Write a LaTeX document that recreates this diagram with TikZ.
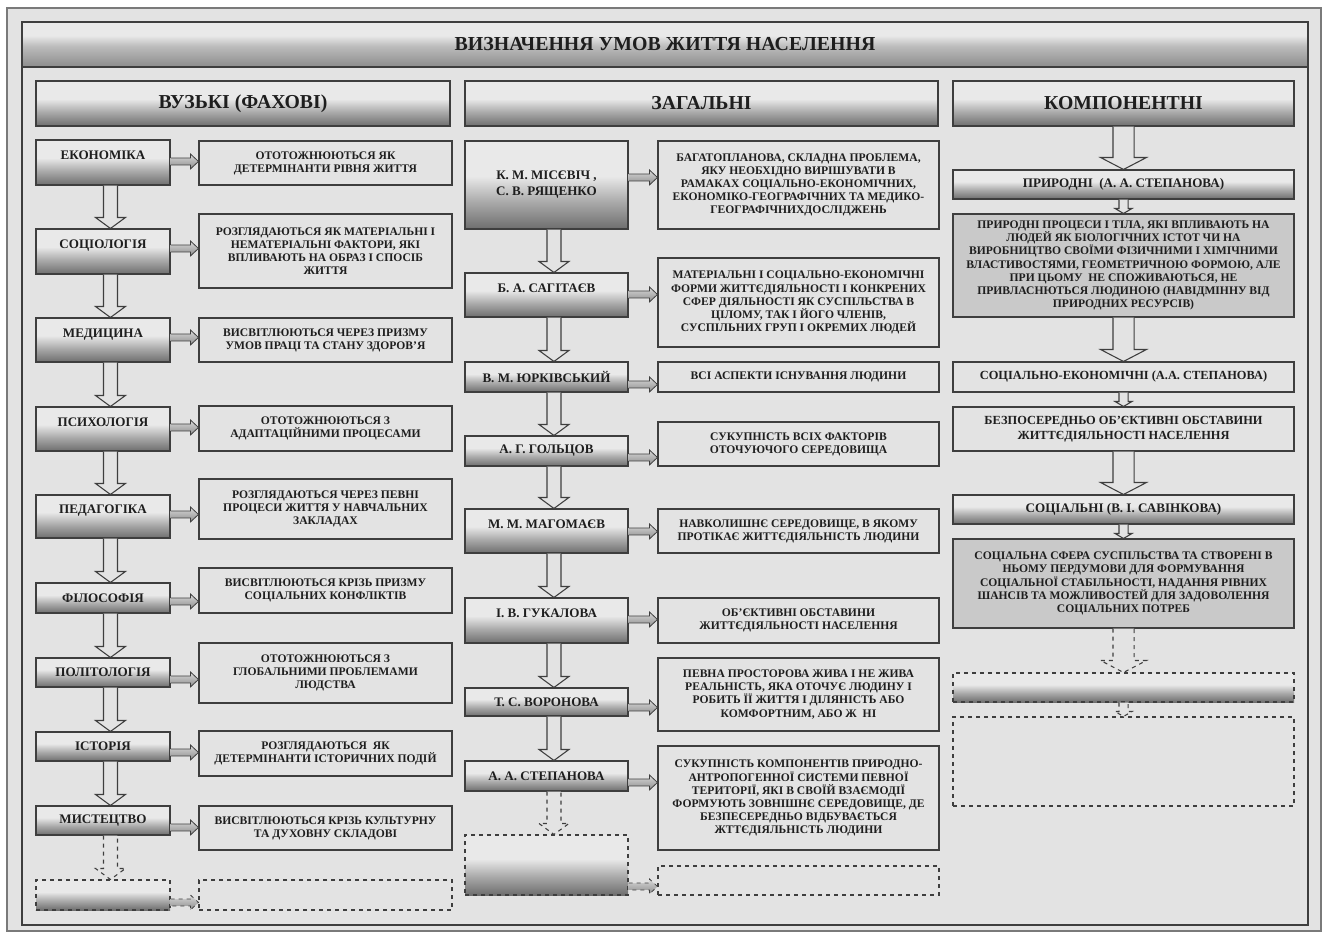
\documentclass[tikz,border=0pt]{standalone}
\usepackage{fontspec}
\setmainfont{Liberation Serif}
\usetikzlibrary{calc}

\definecolor{bg}{HTML}{E3E3E3}
\definecolor{ln}{HTML}{3E3E3E}
\definecolor{frm}{HTML}{7A7A7A}
\definecolor{lite}{HTML}{E9E9E9}
\definecolor{midg}{HTML}{A8A8A8}
\definecolor{dark}{HTML}{6E6E6E}
\definecolor{tdark}{HTML}{8C8C8C}
\definecolor{desk}{HTML}{C9C9C9}
\definecolor{txt}{HTML}{1E1E1E}

\pgfdeclareverticalshading{lblgrad}{100bp}{color(0bp)=(dark); color(25bp)=(dark);
  color(40bp)=(midg); color(55bp)=(lite); color(100bp)=(lite)}
\pgfdeclareverticalshading{titlegrad}{100bp}{color(0bp)=(tdark); color(25bp)=(tdark);
  color(48bp)=(midg!70!lite); color(60bp)=(lite); color(100bp)=(lite)}

% block arrows: style, from, to, x offset, shaft half, head half, head length
\newcommand{\vblk}[7]{%
  \draw[#1] let \p1=(#2.south), \p2=(#3.north) in
    (\x1+#4-#5,\y1) -- (\x1+#4-#5,\y2+#7) -- (\x1+#4-#6,\y2+#7) -- (\x1+#4,\y2)
    -- (\x1+#4+#6,\y2+#7) -- (\x1+#4+#5,\y2+#7) -- (\x1+#4+#5,\y1);
}
% style, from, to, drop below top of from (px)
\newcommand{\hblk}[4]{%
  \draw[#1] let \p1=([yshift=-#4*0.75pt]#2.north east), \p2=(#3.west) in
    (\x1,\y1+2.6pt) -- (\x2-6pt,\y1+2.6pt) -- (\x2-6pt,\y1+5.6pt) -- (\x2,\y1)
    -- (\x2-6pt,\y1-5.6pt) -- (\x2-6pt,\y1-2.6pt) -- (\x1,\y1-2.6pt);
}
\newcommand{\vstd}[3][]{\vblk{varr,#1}{#2}{#3}{5.6pt}{5.25pt}{11.25pt}{8.25pt}}
\newcommand{\vwide}[3][]{\vblk{varr,#1}{#2}{#3}{0pt}{7.9pt}{17.25pt}{9pt}}
\newcommand{\vsmall}[3][]{\vblk{varr,#1}{#2}{#3}{0pt}{3.4pt}{6.4pt}{3.75pt}}

\begin{document}
\begin{tikzpicture}[x=0.75pt, y=-0.75pt,
  box/.style={draw=ln, line width=0.8pt, rectangle, align=center, inner sep=1pt, text=txt},
  ht/.style={minimum height=#1*0.75pt},
  up/.style={text height=8pt, text depth=12pt},
  hdr/.style={box, shading=lblgrad, minimum height=33.75pt, font=\bfseries\fontsize{14.8}{16}\selectfont},
  lbl/.style={box, shading=lblgrad, font=\bfseries\fontsize{9.8}{12}\selectfont},
  dsc/.style={box, font=\bfseries\fontsize{8.7}{9.8}\selectfont},
  gdsc/.style={box, fill=desk, font=\bfseries\fontsize{8.7}{9.9}\selectfont},
  pln/.style={box, font=\bfseries\fontsize{9.3}{11.5}\selectfont},
  lA/.style={lbl, minimum width=100.5pt},
  dA/.style={dsc, minimum width=189.75pt},
  lB/.style={lbl, minimum width=122.25pt},
  dB/.style={dsc, minimum width=210.75pt},
  wC/.style={minimum width=255.75pt},
  varr/.style={draw=ln, line width=0.8pt, fill=bg},
  harr/.style={draw=ln, line width=0.6pt, top color=lite!85!gray, bottom color=tdark},
  dsh/.style={dashed}]

  \useasboundingbox (0,0) rectangle (1327,935);
  \draw[frm, fill=bg, line width=0.8pt] (7,8) rectangle (1321,931);
  \draw[ln, line width=0.8pt] (22,22) rectangle (1308,925);

  \node[box, shading=titlegrad, minimum width=964.5pt, minimum height=33.75pt,
    font=\bfseries\fontsize{14.9}{16}\selectfont] (title) at (665,44.5) {ВИЗНАЧЕННЯ УМОВ ЖИТТЯ НАСЕЛЕННЯ};

  \node[hdr, minimum width=310.5pt] (hA) at (243,103.5) {ВУЗЬКІ (ФАХОВІ)};
  \node[hdr, minimum width=354.75pt] (hB) at (701.5,103.5) {ЗАГАЛЬНІ};
  \node[hdr, wC] (hC) at (1123.5,103.5) {КОМПОНЕНТНІ};

  % left column
  \node[lA, ht=45, up] (eko) at (103,162.5) {ЕКОНОМІКА};
  \node[lA, ht=45, up] (soc) at (103,251.5) {СОЦІОЛОГІЯ};
  \node[lA, ht=44, up] (med) at (103,340) {МЕДИЦИНА};
  \node[lA, ht=44, up] (psy) at (103,429) {ПСИХОЛОГІЯ};
  \node[lA, ht=43, up] (ped) at (103,516.5) {ПЕДАГОГІКА};
  \node[lA, ht=30] (fil) at (103,598) {ФІЛОСОФІЯ};
  \node[lA, ht=29] (pol) at (103,672.5) {ПОЛІТОЛОГІЯ};
  \node[lA, ht=29] (ist) at (103,746.5) {ІСТОРІЯ};
  \node[lA, ht=29] (mys) at (103,820.5) {МИСТЕЦТВО};
  \node[lA, ht=30, dsh] (lx) at (103,895) {};

  \node[dA, ht=44] (eko-d) at (325.5,163) {ОТОТОЖНЮЮТЬСЯ ЯК\\ДЕТЕРМІНАНТИ РІВНЯ ЖИТТЯ};
  \node[dA, ht=74] (soc-d) at (325.5,251) {РОЗГЛЯДАЮТЬСЯ ЯК МАТЕРІАЛЬНІ І\\НЕМАТЕРІАЛЬНІ ФАКТОРИ, ЯКІ\\ВПЛИВАЮТЬ НА ОБРАЗ І СПОСІБ\\ЖИТТЯ};
  \node[dA, ht=44] (med-d) at (325.5,340) {ВИСВІТЛЮЮТЬСЯ ЧЕРЕЗ ПРИЗМУ\\УМОВ ПРАЦІ ТА СТАНУ ЗДОРОВ’Я};
  \node[dA, ht=45] (psy-d) at (325.5,428.5) {ОТОТОЖНЮЮТЬСЯ З\\АДАПТАЦІЙНИМИ ПРОЦЕСАМИ};
  \node[dA, ht=60] (ped-d) at (325.5,509) {РОЗГЛЯДАЮТЬСЯ ЧЕРЕЗ ПЕВНІ\\ПРОЦЕСИ ЖИТТЯ У НАВЧАЛЬНИХ\\ЗАКЛАДАХ};
  \node[dA, ht=45] (fil-d) at (325.5,590.5) {ВИСВІТЛЮЮТЬСЯ КРІЗЬ ПРИЗМУ\\СОЦІАЛЬНИХ КОНФЛІКТІВ};
  \node[dA, ht=60] (pol-d) at (325.5,673) {ОТОТОЖНЮЮТЬСЯ З\\ГЛОБАЛЬНИМИ ПРОБЛЕМАМИ\\ЛЮДСТВА};
  \node[dA, ht=45] (ist-d) at (325.5,753.5) {РОЗГЛЯДАЮТЬСЯ\ \ ЯК\\ДЕТЕРМІНАНТИ ІСТОРИЧНИХ ПОДІЙ};
  \node[dA, ht=44] (mys-d) at (325.5,828) {ВИСВІТЛЮЮТЬСЯ КРІЗЬ КУЛЬТУРНУ\\ТА ДУХОВНУ СКЛАДОВІ};
  \node[dA, ht=30, dsh] (lx-d) at (325.5,895) {};

  \vstd{eko}{soc} \vstd{soc}{med} \vstd{med}{psy} \vstd{psy}{ped}
  \vstd{ped}{fil} \vstd{fil}{pol} \vstd{pol}{ist} \vstd{ist}{mys}
  \vstd[dsh]{mys}{lx}

  \hblk{harr}{eko}{eko-d}{22} \hblk{harr}{soc}{soc-d}{20} \hblk{harr}{med}{med-d}{20}
  \hblk{harr}{psy}{psy-d}{21} \hblk{harr}{ped}{ped-d}{20} \hblk{harr}{fil}{fil-d}{19}
  \hblk{harr}{pol}{pol-d}{22} \hblk{harr}{ist}{ist-d}{21} \hblk{harr}{mys}{mys-d}{22}
  \hblk{harr,dsh}{lx}{lx-d}{23}

  % middle column
  \node[lB, ht=88] (mis) at (546.5,185) {К. М. МІСЄВІЧ ,\\С. В. РЯЩЕНКО};
  \node[lB, ht=44, up] (sag) at (546.5,295) {Б. А. САГІТАЄВ};
  \node[lB, ht=30] (yur) at (546.5,377) {В. М. ЮРКІВСЬКИЙ};
  \node[lB, ht=30] (gol) at (546.5,451) {А. Г. ГОЛЬЦОВ};
  \node[lB, ht=44, up] (mag) at (546.5,531) {М. М. МАГОМАЄВ};
  \node[lB, ht=45, up] (guk) at (546.5,620.5) {І. В. ГУКАЛОВА};
  \node[lB, ht=28] (vor) at (546.5,702) {Т. С. ВОРОНОВА};
  \node[lB, ht=30] (ste) at (546.5,776) {А. А. СТЕПАНОВА};
  \node[lB, ht=60, dsh] (mx) at (546.5,865) {};

  \node[dB, ht=88] (mis-d) at (798.5,185) {БАГАТОПЛАНОВА, СКЛАДНА ПРОБЛЕМА,\\ЯКУ НЕОБХІДНО ВИРІШУВАТИ В\\РАМАКАХ СОЦІАЛЬНО-ЕКОНОМІЧНИХ,\\ЕКОНОМІКО-ГЕОГРАФІЧНИХ ТА МЕДИКО-\\ГЕОГРАФІЧНИХДОСЛІДЖЕНЬ};
  \node[dB, ht=89] (sag-d) at (798.5,302.5) {МАТЕРІАЛЬНІ І СОЦІАЛЬНО-ЕКОНОМІЧНІ\\ФОРМИ ЖИТТЄДІЯЛЬНОСТІ І КОНКРЕНИХ\\СФЕР ДІЯЛЬНОСТІ ЯК СУСПІЛЬСТВА В\\ЦІЛОМУ, ТАК І ЙОГО ЧЛЕНІВ,\\СУСПІЛЬНИХ ГРУП І ОКРЕМИХ ЛЮДЕЙ};
  \node[dB, ht=30] (yur-d) at (798.5,377) {ВСІ АСПЕКТИ ІСНУВАННЯ ЛЮДИНИ};
  \node[dB, ht=44] (gol-d) at (798.5,444) {СУКУПНІСТЬ ВСІХ ФАКТОРІВ\\ОТОЧУЮЧОГО СЕРЕДОВИЩА};
  \node[dB, ht=44] (mag-d) at (798.5,531) {НАВКОЛИШНЄ СЕРЕДОВИЩЕ, В ЯКОМУ\\ПРОТІКАЄ ЖИТТЄДІЯЛЬНІСТЬ ЛЮДИНИ};
  \node[dB, ht=45] (guk-d) at (798.5,620.5) {ОБ'ЄКТИВНІ ОБСТАВИНИ\\ЖИТТЄДІЯЛЬНОСТІ НАСЕЛЕННЯ};
  \node[dB, ht=73] (vor-d) at (798.5,694.5) {ПЕВНА ПРОСТОРОВА ЖИВА І НЕ ЖИВА\\РЕАЛЬНІСТЬ, ЯКА ОТОЧУЄ ЛЮДИНУ І\\РОБИТЬ ЇЇ ЖИТТЯ І ДІЛЯНІСТЬ АБО\\КОМФОРТНИМ, АБО Ж\ \ НІ};
  \node[dB, ht=104] (ste-d) at (798.5,798) {СУКУПНІСТЬ КОМПОНЕНТІВ ПРИРОДНО-\\АНТРОПОГЕННОЇ СИСТЕМИ ПЕВНОЇ\\ТЕРИТОРІЇ, ЯКІ В СВОЇЙ ВЗАЄМОДІЇ\\ФОРМУЮТЬ ЗОВНІШНЄ СЕРЕДОВИЩЕ, ДЕ\\БЕЗПЕСЕРЕДНЬО ВІДБУВАЄТЬСЯ\\ЖТТЄДІЯЛЬНІСТЬ ЛЮДИНИ};
  \node[dB, ht=29, dsh] (mx-d) at (798.5,880.5) {};

  \vstd{mis}{sag} \vstd{sag}{yur} \vstd{yur}{gol} \vstd{gol}{mag}
  \vstd{mag}{guk} \vstd{guk}{vor} \vstd{vor}{ste}
  \vstd[dsh]{ste}{mx}

  \hblk{harr}{mis}{mis-d}{37} \hblk{harr}{sag}{sag-d}{22} \hblk{harr}{yur}{yur-d}{23}
  \hblk{harr}{gol}{gol-d}{22} \hblk{harr}{mag}{mag-d}{23} \hblk{harr}{guk}{guk-d}{22}
  \hblk{harr}{vor}{vor-d}{20} \hblk{harr}{ste}{ste-d}{22}
  \hblk{harr,dsh}{mx}{mx-d}{52}

  % right column
  \node[lbl, wC, ht=29] (pryr) at (1123.5,184.5) {ПРИРОДНІ\ \ (А. А. СТЕПАНОВА)};
  \node[gdsc, wC, ht=103] (pryr-d) at (1123.5,265.5) {ПРИРОДНІ ПРОЦЕСИ І ТІЛА, ЯКІ ВПЛИВАЮТЬ НА\\ЛЮДЕЙ ЯК БІОЛОГІЧНИХ ІСТОТ ЧИ НА\\ВИРОБНИЦТВО СВОЇМИ ФІЗИЧНИМИ І ХІМІЧНИМИ\\ВЛАСТИВОСТЯМИ, ГЕОМЕТРИЧНОЮ ФОРМОЮ, АЛЕ\\ПРИ ЦЬОМУ\ \ НЕ СПОЖИВАЮТЬСЯ, НЕ\\ПРИВЛАСНЮТЬСЯ ЛЮДИНОЮ (НАВІДМІННУ ВІД\\ПРИРОДНИХ РЕСУРСІВ)};
  \node[pln, wC, ht=30] (sek) at (1123.5,377) {СОЦІАЛЬНО-ЕКОНОМІЧНІ (А.А. СТЕПАНОВА)};
  \node[pln, wC, ht=44] (bez) at (1123.5,429) {БЕЗПОСЕРЕДНЬО ОБ'ЄКТИВНІ ОБСТАВИНИ\\ЖИТТЄДІЯЛЬНОСТІ НАСЕЛЕННЯ};
  \node[lbl, wC, ht=29] (socl) at (1123.5,509.5) {СОЦІАЛЬНІ (В. І. САВІНКОВА)};
  \node[gdsc, wC, ht=89] (socl-d) at (1123.5,583.5) {СОЦІАЛЬНА СФЕРА СУСПІЛЬСТВА ТА СТВОРЕНІ В\\НЬОМУ ПЕРДУМОВИ ДЛЯ ФОРМУВАННЯ\\СОЦІАЛЬНОЇ СТАБІЛЬНОСТІ, НАДАННЯ РІВНИХ\\ШАНСІВ ТА МОЖЛИВОСТЕЙ ДЛЯ ЗАДОВОЛЕННЯ\\СОЦІАЛЬНИХ ПОТРЕБ};
  \node[lbl, wC, ht=29, dsh] (rx) at (1123.5,687.5) {};
  \node[box, wC, ht=89, dsh] (rx-d) at (1123.5,761.5) {};

  \vwide{hC}{pryr} \vsmall{pryr}{pryr-d} \vwide{pryr-d}{sek}
  \vsmall{sek}{bez} \vwide{bez}{socl} \vsmall{socl}{socl-d}
  \vwide[dsh]{socl-d}{rx} \vsmall[dsh]{rx}{rx-d}

\end{tikzpicture}
\end{document}
